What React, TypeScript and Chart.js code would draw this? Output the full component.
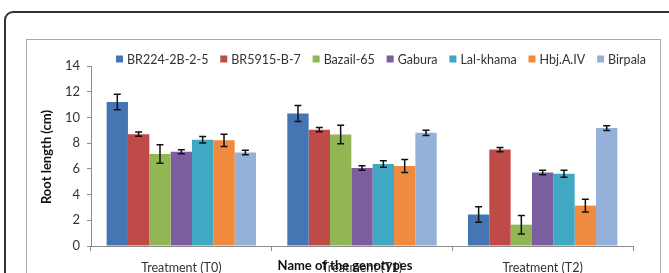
import React, { useEffect, useRef } from "react";
import { Chart, registerables } from "chart.js";

Chart.register(...registerables);

const categories = ["Treatment (T0)", "Treatment (T1)", "Treatment (T2)"];
const genotypes = ["BR224-2B-2-5", "BR5915-B-7", "Bazail-65", "Gabura", "Lal-khama", "Hbj.A.IV", "Birpala"];

const br224 = [11.2, 10.3, 2.45];
const br5915 = [8.7, 9.05, 7.5];
const bazail = [7.15, 8.68, 1.66];
const gabura = [7.33, 6.07, 5.72];
const lalKhama = [8.27, 6.38, 5.62];
const hbj = [8.22, 6.22, 3.14];
const birpala = [7.27, 8.8, 9.17];

const br224Err = [0.6, 0.62, 0.6];
const br5915Err = [0.17, 0.17, 0.17];
const bazailErr = [0.72, 0.72, 0.72];
const gaburaErr = [0.15, 0.17, 0.17];
const lalKhamaErr = [0.25, 0.25, 0.27];
const hbjErr = [0.48, 0.5, 0.5];
const birpalaErr = [0.17, 0.2, 0.18];

const yTicks = [0, 2, 4, 6, 8, 10, 12, 14];

const colors = ["#4675B4", "#BE4B48", "#93B655", "#7A5EA0", "#40A8C2", "#F08A3E", "#95B1DA"];

const seriesValues = [br224, br5915, bazail, gabura, lalKhama, hbj, birpala];
const seriesErrors = [br224Err, br5915Err, bazailErr, gaburaErr, lalKhamaErr, hbjErr, birpalaErr];

const FONT = "Lato, 'Open Sans', sans-serif";

const errorBarPlugin = {
  id: "errorBars",
  afterDatasetsDraw(chart: any) {
    const ctx = chart.ctx;
    const yScale = chart.scales.y;
    ctx.save();
    ctx.strokeStyle = "#111";
    ctx.lineWidth = 1.5;
    chart.data.datasets.forEach((ds: any, di: number) => {
      const meta = chart.getDatasetMeta(di);
      meta.data.forEach((bar: any, i: number) => {
        const v = ds.data[i];
        const e = ds.errors[i];
        const x = bar.x;
        const yTop = yScale.getPixelForValue(v + e);
        const yBot = yScale.getPixelForValue(v - e);
        ctx.beginPath();
        ctx.moveTo(x, yTop);
        ctx.lineTo(x, yBot);
        ctx.moveTo(x - 3.5, yTop);
        ctx.lineTo(x + 3.5, yTop);
        ctx.moveTo(x - 3.5, yBot);
        ctx.lineTo(x + 3.5, yBot);
        ctx.stroke();
      });
    });
    ctx.restore();
  },
};

const customTextPlugin = {
  id: "customText",
  afterDraw(chart: any) {
    const ctx = chart.ctx;
    const area = chart.chartArea;
    ctx.save();
    // legend
    ctx.font = `12.5px ${FONT}`;
    ctx.textBaseline = "middle";
    ctx.textAlign = "left";
    const box = 7;
    const gapText = 4;
    const left = 116;
    const right = 646;
    const widths = chart.data.datasets.map((ds: any) => box + gapText + ctx.measureText(ds.label).width);
    const total = widths.reduce((a: number, b: number) => a + b, 0);
    const spacing = (right - left - total) / (widths.length - 1);
    let x = left;
    const ly = 59;
    chart.data.datasets.forEach((ds: any, i: number) => {
      ctx.fillStyle = ds.backgroundColor;
      ctx.fillRect(x, ly - box / 2, box, box);
      ctx.fillStyle = "#333";
      ctx.fillText(ds.label, x + box + gapText, ly + 0.5);
      x += widths[i] + spacing;
    });
    // y title
    ctx.font = `bold 13px ${FONT}`;
    ctx.fillStyle = "#111";
    ctx.textAlign = "center";
    ctx.save();
    ctx.translate(47, (area.top + area.bottom) / 2 + 1);
    ctx.rotate(-Math.PI / 2);
    ctx.fillText("Root length (cm)", 0, 0);
    ctx.restore();
    // x title
    ctx.fillText("Name of the genotypes", 345, 266);
    ctx.restore();
  },
};

export default function App() {
  const ref = useRef<HTMLCanvasElement | null>(null);

  useEffect(() => {
    if (!ref.current) return;
    const chart = new Chart(ref.current, {
      type: "bar",
      data: {
        labels: categories,
        datasets: genotypes.map((g, i) => ({
          label: g,
          data: seriesValues[i],
          errors: seriesErrors[i],
          backgroundColor: colors[i],
          borderWidth: 0,
          categoryPercentage: 0.827,
          barPercentage: 1,
        })) as any,
      },
      options: {
        responsive: false,
        animation: false,
        layout: { padding: { top: 66, right: 36, bottom: 0, left: 0 } },
        plugins: {
          legend: { display: false },
          tooltip: { enabled: false },
        },
        scales: {
          x: {
            afterFit: (s: any) => {
              s.height = 27;
            },
            grid: {
              display: true,
              drawOnChartArea: false,
              drawTicks: true,
              tickLength: 5,
              color: "#8c8c8c",
              offset: true,
            },
            border: { color: "#8c8c8c" },
            ticks: {
              color: "#333",
              font: { family: FONT, size: 12.5 },
              padding: 9,
              maxRotation: 0,
            },
          },
          y: {
            min: 0,
            max: 14,
            afterFit: (s: any) => {
              s.width = 91;
            },
            afterBuildTicks: (s: any) => {
              s.ticks = yTicks.map((v) => ({ value: v }));
            },
            grid: {
              display: true,
              drawOnChartArea: false,
              drawTicks: true,
              tickLength: 4,
              color: "#8c8c8c",
            },
            border: { color: "#8c8c8c" },
            ticks: {
              color: "#333",
              font: { family: FONT, size: 13 },
              padding: 7,
            },
          },
        },
      },
      plugins: [errorBarPlugin, customTextPlugin],
    });
    return () => chart.destroy();
  }, []);

  return (
    <div
      style={{
        position: "fixed",
        left: 0,
        top: 0,
        width: 669,
        height: 273,
        overflow: "hidden",
        background: "#fff",
      }}
    >
      <div
        style={{
          position: "absolute",
          left: 4,
          top: 11,
          width: 720,
          height: 320,
          border: "2px solid #333",
          borderRadius: 9,
          boxSizing: "border-box",
        }}
      />
      <div
        style={{
          position: "absolute",
          left: 26,
          top: 39,
          width: 635,
          height: 320,
          border: "1px solid #a9a9a9",
          boxSizing: "border-box",
        }}
      />
      <canvas ref={ref} width={669} height={273} style={{ position: "absolute", left: 0, top: 0 }} />
    </div>
  );
}
